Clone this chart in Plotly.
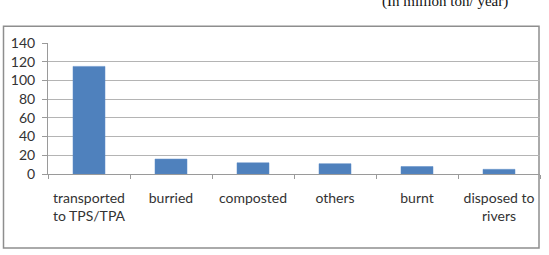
import plotly.graph_objects as go

categories = ["transported<br>to TPS/TPA", "burried", "composted", "others", "burnt", "disposed to<br>rivers"]
values = [115, 16, 12, 11, 8, 5]
y_ticks = [0, 20, 40, 60, 80, 100, 120, 140]
unit_note = "(In million ton/ year)"

W, H = 549, 255
L, R, T, B = 48, 9, 42.5, 80.5
pw, ph = W - L - R, H - T - B

def px(x):
    return (x - L) / pw

def py(y):
    return (H - B - y) / ph

fig = go.Figure(go.Bar(
    x=categories, y=values,
    marker=dict(color="#4f81bd", line=dict(color="#5a8ac6", width=0.5)),
    width=0.39,
))

fig.update_layout(
    width=W, height=H,
    margin=dict(l=L, r=R, t=T, b=B),
    paper_bgcolor="white", plot_bgcolor="white",
    showlegend=False,
    font=dict(family="Lato", size=14, color="#333333"),
    xaxis=dict(
        type="category",
        automargin=False, tickangle=0,
        showgrid=False,
        showline=True, linecolor="#9a9a9a", linewidth=1,
        ticks="outside", tickson="boundaries", ticklen=4, tickcolor="#9a9a9a",
        ticklabelstandoff=11,
        tickfont=dict(family="Lato", size=14, color="#333333"),
    ),
    yaxis=dict(
        automargin=False,
        range=[0, 140], tickvals=y_ticks,
        showgrid=True, gridcolor="#b4b4b4", gridwidth=1,
        showline=True, linecolor="#9a9a9a", linewidth=1,
        ticks="outside", ticklen=5, tickcolor="#9a9a9a",
        ticklabelstandoff=4,
        zeroline=False,
        tickfont=dict(family="Lato", size=14, color="#333333"),
    ),
    shapes=[dict(
        type="rect", xref="paper", yref="paper",
        x0=px(3.5), x1=px(539), y0=py(249), y1=py(25.5),
        line=dict(color="#8e8e8e", width=1.5), fillcolor="rgba(0,0,0,0)",
        layer="below",
    )],
    annotations=[dict(
        text=unit_note, xref="paper", yref="paper",
        x=px(445), y=py(1), xanchor="center", yanchor="middle",
        showarrow=False,
        font=dict(family="Liberation Serif", size=15, color="#111111"),
    )],
)

fig.write_html("out.html")
